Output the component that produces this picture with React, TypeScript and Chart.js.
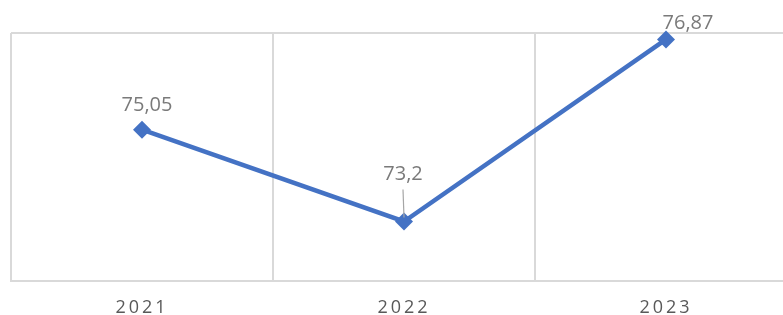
import React, { useEffect, useRef } from "react";
import { Chart, registerables } from "chart.js";

Chart.register(...registerables);

const categories = ["2021", "2022", "2023"];
const values = [75.05, 73.2, 76.87];
const yMin = 72;
const yMax = 77;

const labelOffsets = [
  [5, -24],
  [-1, -47],
  [22, -16],
];

const FONT = "'Open Sans', Lato, sans-serif";

const letterSpacingPlugin = {
  id: "letterSpacing",
  beforeDraw(chart: any) {
    (chart.ctx as any).letterSpacing = "3px";
  },
  beforeDatasetsDraw(chart: any) {
    (chart.ctx as any).letterSpacing = "0px";
  },
};

const dataLabelPlugin = {
  id: "dataLabels",
  afterDatasetsDraw(chart: any) {
    const ctx = chart.ctx;
    const meta = chart.getDatasetMeta(0);
    ctx.save();
    (ctx as any).letterSpacing = "0px";
    ctx.font = `20px ${FONT}`;
    ctx.fillStyle = "#7a7a7a";
    ctx.textAlign = "center";
    ctx.textBaseline = "middle";
    meta.data.forEach((pt: any, i: number) => {
      const [dx, dy] = labelOffsets[i];
      const text = String(values[i]).replace(".", ",");
      ctx.fillText(text, pt.x + dx, pt.y + dy);
      if (Math.abs(dy) > 35) {
        ctx.beginPath();
        ctx.strokeStyle = "#a6a6a6";
        ctx.lineWidth = 1.2;
        ctx.moveTo(pt.x + dx, pt.y + dy + 15);
        ctx.lineTo(pt.x, pt.y - 4);
        ctx.stroke();
      }
    });
    ctx.restore();
  },
};

export default function App() {
  const ref = useRef<HTMLCanvasElement | null>(null);
  useEffect(() => {
    if (!ref.current) return;
    const chart = new Chart(ref.current, {
      type: "line",
      data: {
        labels: categories,
        datasets: [
          {
            data: values,
            borderColor: "#4472C4",
            backgroundColor: "#4472C4",
            borderWidth: 4.5,
            tension: 0,
            pointStyle: "rectRot",
            pointRadius: 9,
            pointBorderWidth: 0,
            pointBackgroundColor: "#4472C4",
            clip: false as any,
          },
        ],
      },
      options: {
        animation: false,
        responsive: false,
        maintainAspectRatio: false,
        layout: { padding: { left: 11, right: 13, top: 33, bottom: 0 } },
        plugins: { legend: { display: false }, tooltip: { enabled: false } },
        scales: {
          x: {
            offset: true,
            grid: { offset: true, color: "#d9d9d9", drawTicks: false, lineWidth: 2 },
            border: { display: true, color: "#d9d9d9", width: 2 },
            ticks: {
              color: "#595959",
              font: { size: 18, family: FONT },
              padding: 16,
              maxRotation: 0,
            },
            afterFit(scale: any) {
              scale.height = 34;
            },
          },
          y: {
            min: yMin,
            max: yMax,
            ticks: { display: false, stepSize: 1 },
            grid: {
              drawTicks: false,
              color: (c: any) => (c.tick && c.tick.value === yMax ? "#d9d9d9" : "rgba(0,0,0,0)"),
              lineWidth: 2,
            },
            border: { display: false },
            afterFit(scale: any) {
              scale.width = 0;
            },
          },
        },
      },
      plugins: [letterSpacingPlugin, dataLabelPlugin],
    });
    return () => chart.destroy();
  }, []);

  return (
    <div style={{ position: "fixed", left: 0, top: 0, width: 783, height: 315, overflow: "hidden", background: "#fff" }}>
      <canvas ref={ref} width={810} height={315} style={{ display: "block", width: 810, height: 315 }} />
    </div>
  );
}
